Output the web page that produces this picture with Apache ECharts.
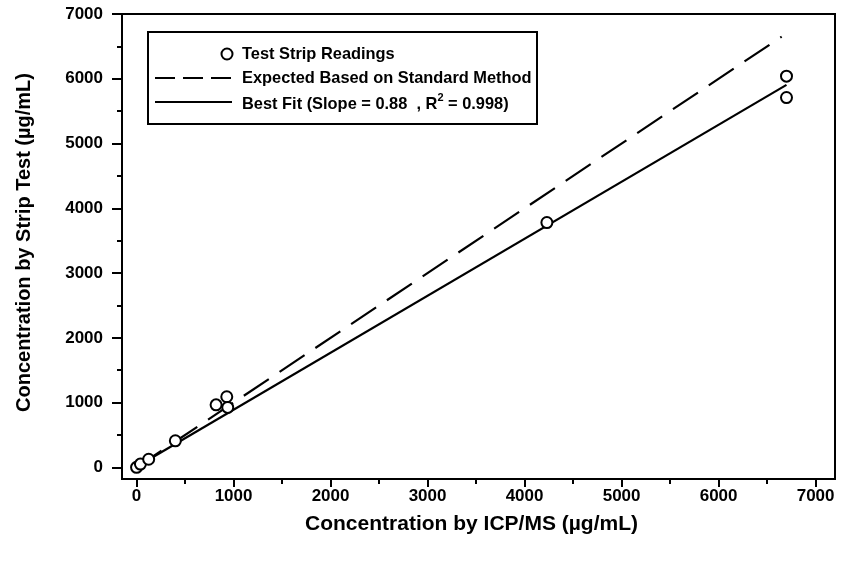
<!DOCTYPE html>
<html>
<head>
<meta charset="utf-8">
<script src="https://cdn.jsdelivr.net/npm/echarts@6/dist/echarts.min.js"></script>
<style>
  html, body { margin: 0; padding: 0; background: #fff; }
  #chart { width: 841px; height: 567px; }
</style>
</head>
<body>
<div id="chart"></div>
<script>
// Test strip readings against ICP/MS reference concentrations (µg/mL)
const icpX   = [0, 40, 125, 400, 820, 930, 940, 4230, 6700, 6700];
const stripY = [0, 50, 125, 410, 965, 1090, 925, 3780, 6040, 5710];

// 1:1 line expected from the standard method
const expectedX = [0, 6650];
const expectedY = [0, 6650];

// Best-fit line end points (slope 0.88)
const fitX = [0, 6700];
const fitY = [10, 5906];

// Axis ticks
const majorTicks = [0, 1000, 2000, 3000, 4000, 5000, 6000, 7000];
const minorTicks = [500, 1500, 2500, 3500, 4500, 5500, 6500];

const seriesNames = [
  'Test Strip Readings',
  'Expected Based on Standard Method',
  'Best Fit (Slope = 0.88  , R² = 0.998)'
];
const xTitle = 'Concentration by ICP/MS (µg/mL)';
const yTitle = 'Concentration by Strip Test (µg/mL)';

const FONT = '"Liberation Sans", Arial, Helvetica, sans-serif';
const pairs = (xs, ys) => xs.map((x, i) => [x, ys[i]]);

const labelStyle = {
  color: '#000', fontFamily: FONT, fontWeight: 'bold', fontSize: 17,
  formatter: v => String(v)
};

function majorAxis(pos, min, max, tickLen, extra) {
  return Object.assign({
    type: 'value', position: pos, min: min, max: max,
    axisLine: { show: true, onZero: false, lineStyle: { color: '#000', width: 2 } },
    axisTick: { show: true, customValues: majorTicks, length: tickLen, inside: false,
                lineStyle: { color: '#000', width: 2 } },
    splitLine: { show: false },
    nameLocation: 'middle'
  }, extra);
}
function minorAxis(pos, min, max) {
  return {
    type: 'value', position: pos, min: min, max: max,
    axisLine: { show: false, onZero: false },
    axisTick: { show: true, customValues: minorTicks, length: 5, inside: false,
                lineStyle: { color: '#000', width: 2 } },
    axisLabel: { show: false },
    splitLine: { show: false }
  };
}

const chart = echarts.init(document.getElementById('chart'), null, { renderer: 'canvas' });

const legendX = 148, legendY = 32;
const rowY = [legendY + 22, legendY + 46, legendY + 70];
const legendFont = { fill: '#000', fontFamily: FONT, fontWeight: 'bold', fontSize: 16.4 };

chart.setOption({
  backgroundColor: '#fff',
  animation: false,
  grid: {
    left: 122, right: 6, top: 14, bottom: 88,
    containLabel: false, outerBoundsMode: 'none',
    show: true, borderColor: '#000', borderWidth: 2, backgroundColor: 'transparent'
  },
  xAxis: [
    majorAxis('bottom', -150, 7200, 8, {
      name: xTitle, nameGap: 35,
      nameTextStyle: { color: '#000', fontFamily: FONT, fontWeight: 'bold', fontSize: 21,
                       padding: [0, 14, 0, 0] },
      axisLabel: Object.assign({ show: true, customValues: majorTicks, margin: 9 }, labelStyle)
    }),
    minorAxis('bottom', -150, 7200)
  ],
  yAxis: [
    majorAxis('left', -180, 7000, 10, {
      name: yTitle, nameGap: 88,
      nameTextStyle: { color: '#000', fontFamily: FONT, fontWeight: 'bold', fontSize: 20,
                       padding: [0, 0, 0, 8] },
      axisLabel: Object.assign({ show: true, customValues: majorTicks, margin: 19 }, labelStyle)
    }),
    minorAxis('left', -180, 7000)
  ],
  series: [
    {
      name: seriesNames[1], type: 'line', xAxisIndex: 0, yAxisIndex: 0,
      data: pairs(expectedX, expectedY), symbol: 'none', clip: false, z: 2,
      lineStyle: { color: '#000', width: 2.2, type: [30, 13] }
    },
    {
      name: seriesNames[2], type: 'line', xAxisIndex: 0, yAxisIndex: 0,
      data: pairs(fitX, fitY), symbol: 'none', clip: false, z: 2,
      lineStyle: { color: '#000', width: 2.2, type: 'solid' }
    },
    {
      name: seriesNames[0], type: 'scatter', xAxisIndex: 0, yAxisIndex: 0,
      data: pairs(icpX, stripY), symbol: 'circle', symbolSize: 11, z: 5,
      itemStyle: { color: '#fff', borderColor: '#000', borderWidth: 2, opacity: 1 }
    }
  ],
  graphic: [
    { type: 'rect', z: 20,
      shape: { x: legendX, y: legendY, width: 389, height: 92 },
      style: { fill: '#fff', stroke: '#000', lineWidth: 2 } },
    { type: 'circle', z: 21,
      shape: { cx: 227, cy: rowY[0], r: 5.5 },
      style: { fill: '#fff', stroke: '#000', lineWidth: 2 } },
    { type: 'text', z: 21, x: 242, y: rowY[0],
      style: Object.assign({ text: seriesNames[0], verticalAlign: 'middle' }, legendFont) },
    { type: 'line', z: 21,
      shape: { x1: 155, y1: rowY[1], x2: 232, y2: rowY[1] },
      style: { stroke: '#000', lineWidth: 2, lineDash: [20, 8] } },
    { type: 'text', z: 21, x: 242, y: rowY[1],
      style: Object.assign({ text: seriesNames[1], verticalAlign: 'middle' }, legendFont) },
    { type: 'line', z: 21,
      shape: { x1: 155, y1: rowY[2], x2: 232, y2: rowY[2] },
      style: { stroke: '#000', lineWidth: 2 } },
    { type: 'text', z: 21, x: 242, y: rowY[2],
      style: {
        text: '{a|Best Fit (Slope = 0.88  , R}{s|2}{a| = 0.998)}',
        verticalAlign: 'middle',
        rich: {
          a: Object.assign({ color: '#000', lineHeight: 20, verticalAlign: 'bottom' }, legendFont),
          s: { fill: '#000', color: '#000', fontFamily: FONT, fontWeight: 'bold', fontSize: 11,
               verticalAlign: 'top' }
        }
      } }
  ]
});
</script>
</body>
</html>
